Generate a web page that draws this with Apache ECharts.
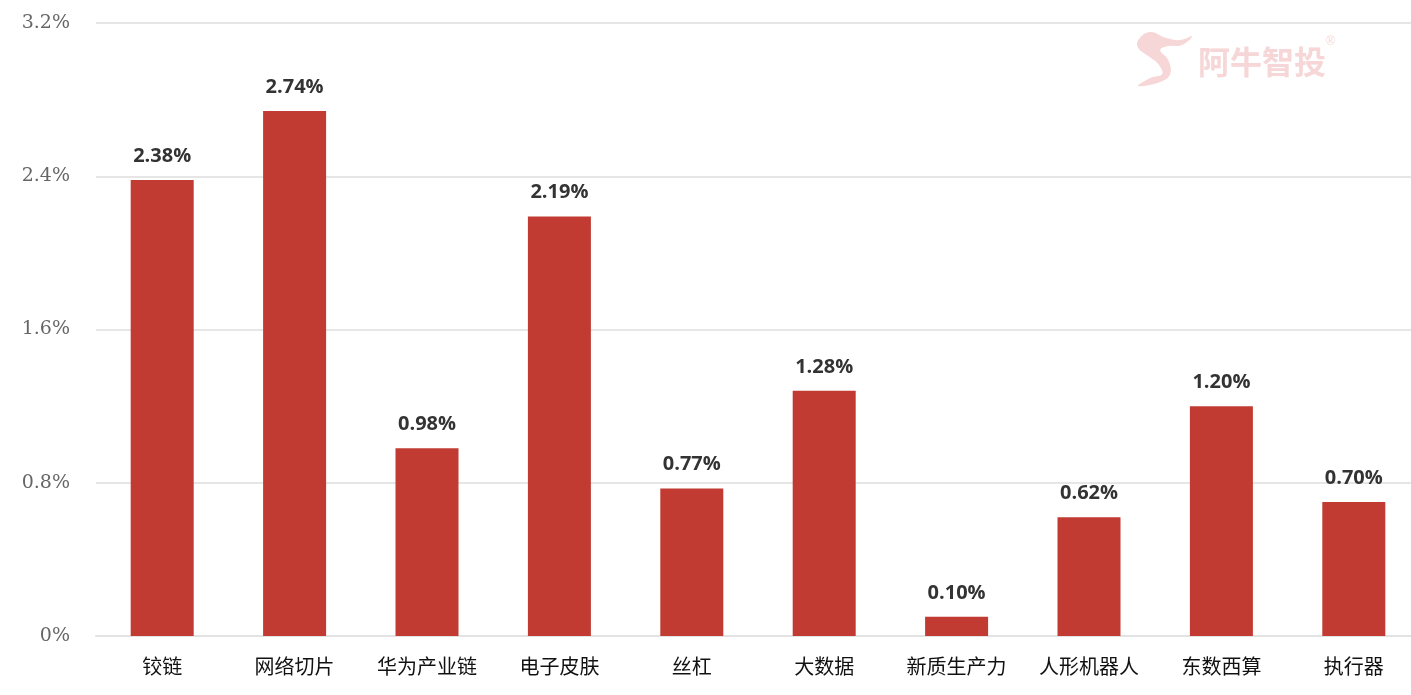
<!DOCTYPE html>
<html>
<head>
<meta charset="utf-8">
<script src="https://cdn.jsdelivr.net/npm/echarts@6/dist/echarts.min.js"></script>
<style>
html,body{margin:0;padding:0;background:#fff;overflow:hidden;}
#main{width:1411px;height:695px;}
</style>
</head>
<body>
<div id="main"></div>
<script>
const categories = ['铰链','网络切片','华为产业链','电子皮肤','丝杠','大数据','新质生产力','人形机器人','东数西算','执行器'];
const values = [2.38, 2.74, 0.98, 2.19, 0.77, 1.28, 0.10, 0.62, 1.20, 0.70];
const yTicks = [0, 0.8, 1.6, 2.4, 3.2];

const chart = echarts.init(document.getElementById('main'));
chart.setOption({
  backgroundColor: '#fff',
  animation: false,
  grid: { left: 96, width: 1324, top: 23, bottom: 59, containLabel: false, outerBoundsMode: 'none' },
  graphic: [
    {
      type: 'text', left: 1198, top: 46,
      style: { text: '阿牛智投', fontSize: 32, fontWeight: 'bold', fill: '#f6d6d6',
               fontFamily: '"Noto Sans CJK SC", sans-serif' }
    },
    {
      type: 'text', left: 1326, top: 36,
      style: { text: '®', fontSize: 12, fill: '#f6d6d6', fontFamily: 'sans-serif' }
    },
    {
      type: 'polygon', left: 1137, top: 32,
      shape: { smooth: 0.4, points: [[2,10],[14,2],[30,8],[44,10],[56,6],[46,15],[32,16],[24,20],[32,30],[34,44],[24,52],[2,56],[14,48],[26,44],[22,34],[12,26],[2,18]] },
      style: { fill: '#f6d6d6' }
    }
  ],
  xAxis: {
    type: 'category',
    data: categories,
    axisLine: { show: true, lineStyle: { color: '#e3e3e3', width: 2 } },
    axisTick: { show: false },
    axisLabel: { color: '#111', fontSize: 20, margin: 20,
                 fontFamily: '"Noto Sans CJK SC", sans-serif' }
  },
  yAxis: {
    type: 'value',
    min: 0, max: 3.2, interval: 0.8,
    axisLine: { show: false },
    axisTick: { show: false },
    splitLine: { lineStyle: { color: '#e6e6e6', width: 2 } },
    axisLabel: {
      color: '#666', fontSize: 19, margin: 26,
      fontFamily: '"DejaVu Serif", serif',
      formatter: function (v) {
        const t = yTicks.find(x => Math.abs(x - v) < 1e-6);
        return (t === 0 ? '0' : (t !== undefined ? t.toFixed(1) : v)) + '%';
      }
    }
  },
  series: [{
    type: 'bar',
    data: values,
    barWidth: 63,
    itemStyle: { color: '#c13b33' },
    label: {
      show: true, position: 'top', distance: 14,
      color: '#333', fontSize: 20, fontWeight: 'bold',
      fontFamily: '"Open Sans", sans-serif',
      formatter: function (p) { return p.value.toFixed(2) + '%'; }
    }
  }]
});
</script>
</body>
</html>
